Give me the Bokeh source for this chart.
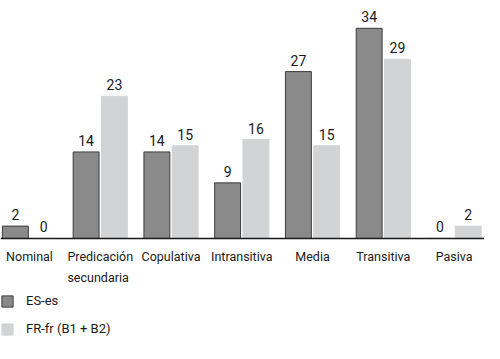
from bokeh.plotting import figure
from bokeh.models import ColumnDataSource, Range1d, LabelSet, Legend, LegendItem, Span
from bokeh.core.properties import value
from bokeh.embed import file_html
from bokeh.resources import INLINE

categories = ["Nominal", "Predicación\nsecundaria", "Copulativa", "Intransitiva", "Media", "Transitiva", "Pasiva"]
es_es = [2, 14, 14, 9, 27, 34, 0]
fr_fr = [0, 23, 15, 16, 15, 29, 2]
series_names = ["ES-es", "FR-fr (B1 + B2)"]

FONT = "Roboto"
idx = list(range(len(categories)))
dark_src = ColumnDataSource(dict(x=[i - 0.2 for i in idx], top=es_es, lab=[str(v) for v in es_es]))
light_src = ColumnDataSource(dict(x=[i + 0.2 for i in idx], top=fr_fr, lab=[str(v) for v in fr_fr]))
cat_src = ColumnDataSource(dict(x=idx, y=[0] * len(idx), lab=categories))

p = figure(width=484, height=343, x_range=Range1d(-0.41, 6.43), y_range=Range1d(-16.99, 38.5),
           output_backend="svg", toolbar_location=None, x_axis_location=None, y_axis_location=None,
           min_border=0)
p.outline_line_color = None
p.grid.visible = False
p.background_fill_color = "white"

r1 = p.vbar(x="x", top="top", bottom=0, width=0.366, source=dark_src, fill_color="#8a8a8a", line_color="#3c3c3c", line_width=1)
r2 = p.vbar(x="x", top="top", bottom=0, width=0.366, source=light_src, fill_color="#d2d3d5", line_color="#d2d3d5", line_width=1)

p.add_layout(Span(location=0, dimension="width", line_color="#1a1a1a", line_width=1.5))

for src in (dark_src, light_src):
    p.add_layout(LabelSet(x="x", y="top", text="lab", source=src, y_offset=6, text_align="center",
                          text_baseline="bottom", text_font=value(FONT), text_font_size=value("14px"),
                          text_color="#1a1a1a"))

p.add_layout(LabelSet(x="x", y="y", text="lab", source=cat_src, y_offset=-11, text_align="center",
                      text_baseline="top", text_font=value(FONT), text_font_size=value("12.5px"),
                      text_color="#1a1a1a", text_line_height=1.4))

legend = Legend(items=[LegendItem(label=series_names[0], renderers=[r1]),
                       LegendItem(label=series_names[1], renderers=[r2])],
                orientation="vertical", location=(0, 7), border_line_color=None,
                background_fill_alpha=0, padding=3, margin=0, spacing=13,
                glyph_width=14, glyph_height=14, label_height=14, label_standoff=12,
                label_text_font=FONT, label_text_font_size="13px", label_text_color="#1a1a1a")
p.add_layout(legend, "center")

open("out.html", "w").write(file_html(p, INLINE))
